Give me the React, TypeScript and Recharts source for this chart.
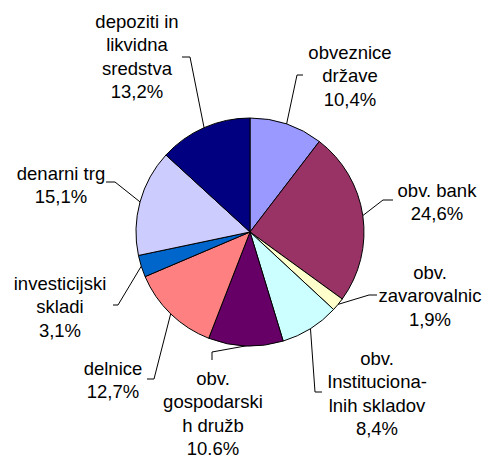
import React from "react";
import { PieChart, Pie, Cell } from "recharts";

const categories = [
  "obveznice države",
  "obv. bank",
  "obv. zavarovalnic",
  "obv. Institucionalnih skladov",
  "obv. gospodarskih družb",
  "delnice",
  "investicijski skladi",
  "denarni trg",
  "depoziti in likvidna sredstva",
];

const values = [10.4, 24.6, 1.9, 8.4, 10.6, 12.7, 3.1, 15.1, 13.2];

const valueLabels = ["10,4%", "24,6%", "1,9%", "8,4%", "10.6%", "12,7%", "3,1%", "15,1%", "13,2%"];

const labelLines = [
  ["obveznice", "države"],
  ["obv. bank"],
  ["obv.", "zavarovalnic"],
  ["obv.", "Instituciona-", "lnih skladov"],
  ["obv.", "gospodarski", "h družb"],
  ["delnice"],
  ["investicijski", "skladi"],
  ["denarni trg"],
  ["depoziti in", "likvidna", "sredstva"],
];

const colors = ["#9999FF", "#993366", "#FFFFCC", "#CCFFFF", "#660066", "#FF8080", "#0066CC", "#CCCCFF", "#000080"];

// label layout, offsets relative to pie centre: text centre x, first line y, elbow, end of leader
const layout = [
  { tx: 100, ty: -180, ex: 47, ey: -157, hx: 53, hy: -157 },
  { tx: 187, ty: -42, ex: 133, ey: -32, hx: 143, hy: -32 },
  { tx: 180, ty: 40, ex: 119, ey: 63, hx: 127, hy: 63 },
  { tx: 127, ty: 126, ex: 65, ey: 160, hx: 72, hy: 160 },
  { tx: -37, ty: 146, ex: -38, ey: 120, hx: -38, hy: 128 },
  { tx: -137, ty: 136, ex: -96, ey: 147, hx: -103, hy: 147 },
  { tx: -190, ty: 51, ex: -132, ey: 73, hx: -137, hy: 73 },
  { tx: -189, ty: -59, ex: -135, ey: -50, hx: -144, hy: -50 },
  { tx: -113, ty: -211, ex: -60, ey: -175, hx: -68, hy: -175 },
];

const data = categories.map((name, i) => ({ name, value: values[i] }));

const LINE_H = 23.6;
const RAD = Math.PI / 180;

const renderLabel = (props: any) => {
  const { cx, cy, midAngle, outerRadius, index } = props;
  const L = layout[index];
  const sx = cx + outerRadius * Math.cos(-midAngle * RAD);
  const sy = cy + outerRadius * Math.sin(-midAngle * RAD);
  const lines = [...labelLines[index], valueLabels[index]];
  return (
    <g key={`lbl-${index}`}>
      <polyline
        points={`${sx},${sy} ${cx + L.ex},${cy + L.ey} ${cx + L.hx},${cy + L.hy}`}
        fill="none"
        stroke="#000"
        strokeWidth={1}
      />
      <text
        x={cx + L.tx}
        y={cy + L.ty}
        textAnchor="middle"
        fontFamily="'Liberation Sans', Arial, sans-serif"
        fontSize={18.5}
        fill="#000"
      >
        {lines.map((t, k) => (
          <tspan key={k} x={cx + L.tx} y={cy + L.ty + k * LINE_H} dominantBaseline="central">
            {t}
          </tspan>
        ))}
      </text>
    </g>
  );
};

export default function App() {
  return (
    <div style={{ position: "absolute", left: 0, top: 0, width: 484, height: 457, background: "#fff" }}>
      <PieChart width={484} height={457} margin={{ top: 0, right: 0, bottom: 0, left: 0 }}>
        <Pie
          data={data}
          dataKey="value"
          nameKey="name"
          cx={250}
          cy={232}
          outerRadius={114}
          startAngle={90}
          endAngle={-270}
          stroke="#000"
          strokeWidth={1}
          label={renderLabel}
          labelLine={false}
          isAnimationActive={false}
        >
          {data.map((d, i) => (
            <Cell key={d.name} fill={colors[i]} />
          ))}
        </Pie>
      </PieChart>
    </div>
  );
}
